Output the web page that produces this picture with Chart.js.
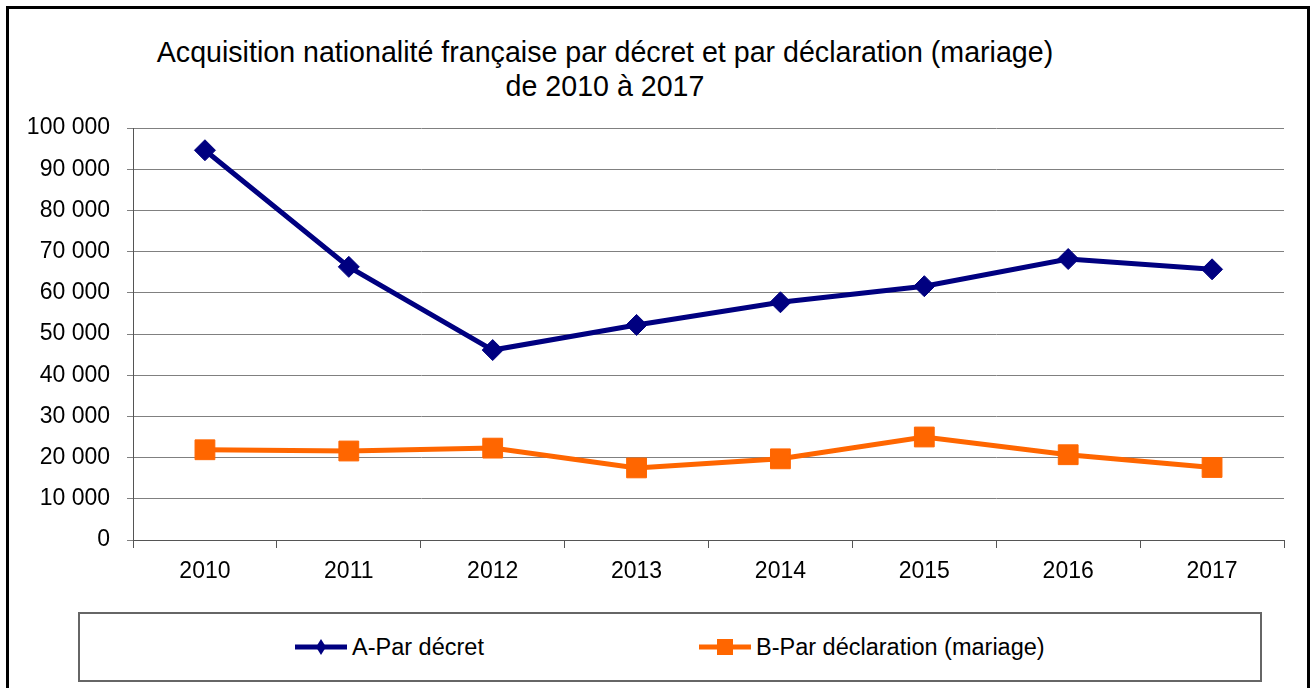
<!DOCTYPE html>
<html>
<head>
<meta charset="utf-8">
<script src="https://cdn.jsdelivr.net/npm/chart.js@4/dist/chart.umd.min.js"></script>
<style>
  body { margin: 0; background: #fff; font-family: 'Liberation Sans', Arial, sans-serif; }
  #wrap { position: relative; width: 1310px; height: 688px; overflow: hidden; }
  #frame { position: absolute; left: 6px; top: 6px; width: 1298px; height: 700px; border: 3px solid #000; }
  #chart { position: absolute; left: 0; top: 0; }
  #title { position: absolute; left: 105px; width: 1000px; top: 35px; text-align: center;
           font-size: 28.6px; line-height: 34px; color: #000; white-space: nowrap; }
  #legend { position: absolute; left: 78px; top: 612px; width: 1180px; height: 66px;
            border: 2px solid #666; }
  .item { position: absolute; top: 18px; height: 30px; display: flex; align-items: center;
          font-size: 23.5px; color: #000; }
  .item svg { margin-right: 3px; }
</style>
</head>
<body>
<div id="wrap">
  <div id="frame"></div>
  <div id="title">Acquisition nationalité française par décret et par déclaration (mariage)<br>de 2010 à 2017</div>
  <canvas id="chart" width="1310" height="600"></canvas>
  <div id="legend">
    <div class="item" style="left:213px">
      <svg width="56" height="20"><line x1="2" y1="10" x2="54" y2="10" stroke="#000080" stroke-width="5"/><polygon points="28,2 33,10 28,18 23,10" fill="#000080"/></svg>A-Par décret
    </div>
    <div class="item" style="left:617px">
      <svg width="56" height="20"><line x1="2" y1="10" x2="54" y2="10" stroke="#FF6600" stroke-width="5"/><rect x="20" y="2" width="16" height="16" fill="#FF6600"/></svg>B-Par déclaration (mariage)
    </div>
  </div>
</div>
<script>
const years = ['2010', '2011', '2012', '2013', '2014', '2015', '2016', '2017'];
const parDecret = [94600, 66300, 46100, 52200, 57700, 61600, 68200, 65700];
const parDeclaration = [21900, 21600, 22300, 17500, 19700, 25000, 20700, 17600];
const yMax = 100000;
const yStep = 10000;

function fmt(v) {
    return String(v).replace(/\B(?=(\d{3})+(?!\d))/g, ' ');
}

const font = { family: "'Liberation Sans', Arial, sans-serif", size: 23 };

new Chart(document.getElementById('chart'), {
    type: 'line',
    data: {
        labels: years,
        datasets: [
            { label: 'A-Par décret', data: parDecret, borderColor: '#000080', backgroundColor: '#000080',
              borderWidth: 5, pointStyle: 'rectRot', pointRadius: 10.5, pointBorderWidth: 1, tension: 0 },
            { label: 'B-Par déclaration (mariage)', data: parDeclaration, borderColor: '#FF6600', backgroundColor: '#FF6600',
              borderWidth: 5, pointStyle: 'rect', pointRadius: 14, pointBorderWidth: 1, tension: 0 }
        ]
    },
    options: {
        responsive: false,
        animation: false,
        layout: { padding: { top: 128, left: 0, right: 26, bottom: 0 } },
        plugins: { legend: { display: false }, title: { display: false }, tooltip: { enabled: false } },
        scales: {
            x: {
                offset: true,
                grid: { offset: true, drawOnChartArea: false, drawTicks: true, tickLength: 8, color: '#555' },
                border: { display: true, color: '#555', width: 1 },
                ticks: { color: '#000', font: font, padding: 10, maxRotation: 0 },
                afterFit: s => { s.height = 60; }
            },
            y: {
                min: 0, max: yMax,
                grid: { color: '#808080', lineWidth: 1, tickLength: 6 },
                border: { display: true, color: '#555', width: 1 },
                ticks: { stepSize: yStep, color: '#000', font: font, padding: 17, callback: v => fmt(v) },
                afterFit: s => { s.width = 133; }
            }
        }
    }
});
</script>
</body>
</html>
